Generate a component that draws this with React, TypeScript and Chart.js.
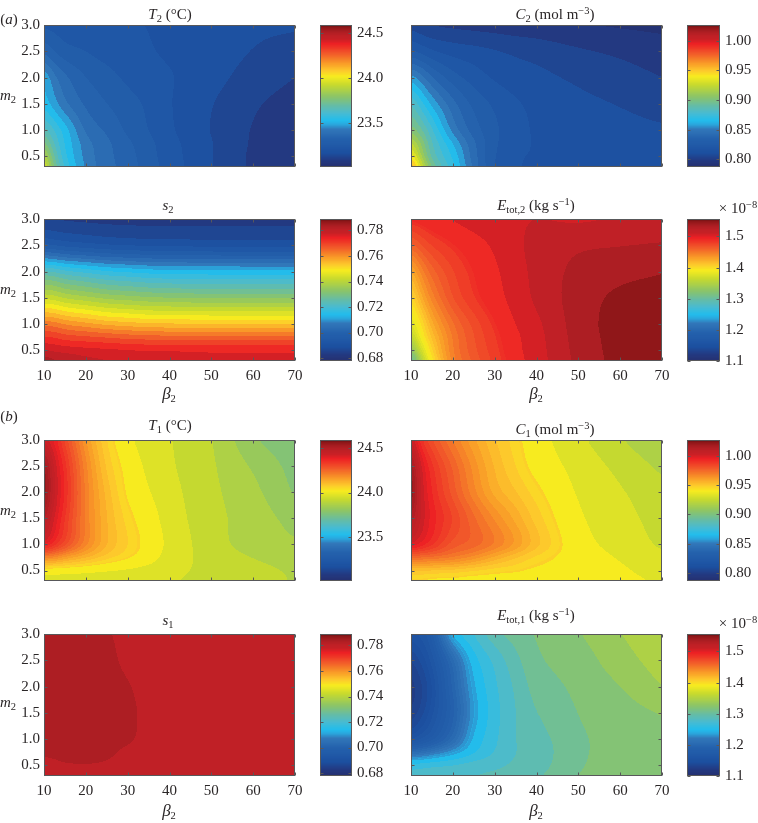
import React, { useEffect, useRef } from "react";
import { Chart, registerables } from "chart.js";

Chart.register(...registerables);

const beta2Grid = [10, 12.5, 15, 20, 25, 30, 35, 40, 50, 60, 70];
const m2Grid = [0.3, 0.5, 0.75, 1.0, 1.5, 2.0, 2.5, 3.0];
const betaTicks = [10, 20, 30, 40, 50, 60, 70];
const m2Ticks = [0.5, 1.0, 1.5, 2.0, 2.5, 3.0];

const tTicks = [23.5, 24.0, 24.5];
const cTicks = [0.8, 0.85, 0.9, 0.95, 1.0];
const sTicks = [0.68, 0.7, 0.72, 0.74, 0.76, 0.78];
const eTicks = [1.1, 1.2, 1.3, 1.4, 1.5];

const tRange = [23.015, 24.585];
const cRange = [0.787, 1.0265];
const sRange = [0.6777, 0.789];
const eRange = [1.1, 1.556];

const T2Grid = [
  [24.0, 23.75, 23.6, 23.45, 23.38, 23.335, 23.285, 23.24, 23.165, 23.105, 23.085],
  [23.9, 23.7, 23.57, 23.44, 23.375, 23.33, 23.28, 23.235, 23.165, 23.105, 23.085],
  [23.78, 23.65, 23.55, 23.43, 23.37, 23.32, 23.275, 23.23, 23.165, 23.108, 23.088],
  [23.68, 23.6, 23.53, 23.4, 23.35, 23.3, 23.26, 23.22, 23.16, 23.11, 23.09],
  [23.54, 23.48, 23.42, 23.35, 23.31, 23.28, 23.25, 23.215, 23.165, 23.12, 23.095],
  [23.5, 23.42, 23.37, 23.31, 23.28, 23.25, 23.23, 23.215, 23.18, 23.14, 23.113],
  [23.35, 23.31, 23.28, 23.26, 23.24, 23.225, 23.215, 23.205, 23.19, 23.16, 23.14],
  [23.25, 23.24, 23.23, 23.225, 23.22, 23.215, 23.21, 23.205, 23.195, 23.175, 23.17],
];

const C2Grid = [
  [0.965, 0.93, 0.9, 0.872, 0.845, 0.824, 0.818, 0.8155, 0.8145, 0.813, 0.812],
  [0.945, 0.915, 0.89, 0.868, 0.843, 0.825, 0.818, 0.8165, 0.8145, 0.813, 0.8115],
  [0.925, 0.905, 0.885, 0.862, 0.841, 0.826, 0.819, 0.8165, 0.814, 0.8125, 0.811],
  [0.905, 0.893, 0.878, 0.852, 0.836, 0.826, 0.82, 0.816, 0.8135, 0.812, 0.8105],
  [0.885, 0.872, 0.86, 0.842, 0.83, 0.823, 0.818, 0.815, 0.8115, 0.809, 0.806],
  [0.858, 0.85, 0.84, 0.828, 0.821, 0.816, 0.813, 0.8115, 0.808, 0.805, 0.802],
  [0.826, 0.822, 0.818, 0.814, 0.812, 0.81, 0.808, 0.8065, 0.803, 0.8005, 0.798],
  [0.806, 0.803, 0.801, 0.8, 0.799, 0.798, 0.797, 0.7965, 0.7945, 0.7935, 0.7925],
];

const S2Grid = [
  [0.785, 0.783, 0.782, 0.78, 0.779, 0.778, 0.7775, 0.7775, 0.777, 0.777, 0.777],
  [0.779, 0.778, 0.7775, 0.7765, 0.776, 0.7755, 0.775, 0.775, 0.7745, 0.7745, 0.7745],
  [0.772, 0.7715, 0.77, 0.769, 0.768, 0.767, 0.7665, 0.766, 0.766, 0.766, 0.766],
  [0.7635, 0.763, 0.761, 0.759, 0.757, 0.756, 0.755, 0.7548, 0.7545, 0.7545, 0.7545],
  [0.743, 0.742, 0.74, 0.738, 0.736, 0.735, 0.734, 0.7335, 0.733, 0.733, 0.733],
  [0.7235, 0.7225, 0.7205, 0.7185, 0.7165, 0.7155, 0.7145, 0.714, 0.7137, 0.7135, 0.7135],
  [0.696, 0.695, 0.694, 0.693, 0.692, 0.6915, 0.691, 0.691, 0.6905, 0.6905, 0.6905],
  [0.684, 0.684, 0.6838, 0.6835, 0.6832, 0.683, 0.683, 0.683, 0.683, 0.683, 0.683],
];

const E2Grid = [
  [1.29, 1.35, 1.395, 1.445, 1.465, 1.48, 1.493, 1.506, 1.531, 1.546, 1.549],
  [1.325, 1.37, 1.405, 1.448, 1.468, 1.482, 1.495, 1.507, 1.532, 1.5465, 1.5495],
  [1.355, 1.39, 1.415, 1.45, 1.47, 1.484, 1.496, 1.508, 1.533, 1.547, 1.55],
  [1.375, 1.4, 1.425, 1.455, 1.473, 1.487, 1.499, 1.51, 1.534, 1.5475, 1.55],
  [1.4, 1.425, 1.445, 1.47, 1.484, 1.494, 1.504, 1.516, 1.534, 1.545, 1.548],
  [1.425, 1.445, 1.46, 1.477, 1.488, 1.497, 1.506, 1.518, 1.531, 1.537, 1.541],
  [1.46, 1.47, 1.478, 1.487, 1.494, 1.501, 1.509, 1.519, 1.525, 1.527, 1.529],
  [1.49, 1.493, 1.496, 1.5, 1.505, 1.508, 1.511, 1.513, 1.511, 1.514, 1.516],
];

const T1Grid = [
  [23.97, 23.97, 23.965, 23.96, 23.955, 23.95, 23.947, 23.95, 23.93, 23.915, 23.895],
  [24.02, 24.02, 24.018, 24.01, 24.0, 23.99, 23.975, 23.96, 23.935, 23.915, 23.89],
  [24.2, 24.19, 24.16, 24.12, 24.08, 24.05, 24.02, 23.975, 23.93, 23.897, 23.87],
  [24.4, 24.35, 24.3, 24.2, 24.12, 24.07, 24.03, 23.985, 23.92, 23.878, 23.855],
  [24.5, 24.41, 24.34, 24.21, 24.12, 24.06, 24.02, 23.975, 23.915, 23.875, 23.83],
  [24.57, 24.44, 24.36, 24.21, 24.11, 24.04, 24.0, 23.965, 23.91, 23.862, 23.795],
  [24.55, 24.43, 24.35, 24.2, 24.09, 24.03, 23.985, 23.955, 23.905, 23.842, 23.78],
  [24.43, 24.38, 24.31, 24.17, 24.07, 24.01, 23.97, 23.95, 23.9, 23.808, 23.76],
];

const C1Grid = [
  [0.943, 0.943, 0.942, 0.942, 0.941, 0.941, 0.94, 0.94, 0.942, 0.939, 0.936],
  [0.952, 0.952, 0.951, 0.95, 0.948, 0.946, 0.945, 0.943, 0.942, 0.938, 0.933],
  [0.975, 0.974, 0.973, 0.97, 0.965, 0.958, 0.952, 0.947, 0.941, 0.936, 0.931],
  [1.0, 0.995, 0.99, 0.98, 0.976, 0.97, 0.962, 0.953, 0.94, 0.934, 0.928],
  [1.015, 1.003, 0.995, 0.985, 0.975, 0.966, 0.958, 0.95, 0.938, 0.932, 0.926],
  [1.025, 1.003, 0.993, 0.98, 0.968, 0.958, 0.952, 0.946, 0.936, 0.93, 0.924],
  [1.02, 1.0, 0.99, 0.977, 0.965, 0.955, 0.948, 0.942, 0.934, 0.927, 0.92],
  [1.005, 0.99, 0.982, 0.97, 0.96, 0.952, 0.946, 0.94, 0.931, 0.9225, 0.914],
];

const S1Grid = [
  [0.7805, 0.7806, 0.7807, 0.7808, 0.7807, 0.7805, 0.7803, 0.78, 0.7796, 0.7793, 0.7791],
  [0.7812, 0.7815, 0.7818, 0.7819, 0.7817, 0.7812, 0.7806, 0.7802, 0.7797, 0.7794, 0.7792],
  [0.7824, 0.7826, 0.7828, 0.783, 0.7825, 0.7815, 0.7808, 0.7803, 0.7798, 0.7795, 0.7792],
  [0.783, 0.7835, 0.7835, 0.7835, 0.7832, 0.7824, 0.7813, 0.7806, 0.7799, 0.7795, 0.7792],
  [0.784, 0.784, 0.784, 0.7837, 0.7832, 0.7825, 0.7815, 0.7808, 0.78, 0.7796, 0.7793],
  [0.7842, 0.7842, 0.784, 0.7836, 0.783, 0.7822, 0.7813, 0.7808, 0.78, 0.7796, 0.7793],
  [0.7838, 0.7838, 0.7836, 0.7832, 0.7826, 0.7816, 0.781, 0.7806, 0.78, 0.7795, 0.7792],
  [0.7835, 0.7835, 0.7832, 0.7828, 0.7822, 0.7815, 0.7808, 0.7805, 0.78, 0.7795, 0.779],
];

const E1Grid = [
  [1.28, 1.281, 1.282, 1.284, 1.286, 1.289, 1.293, 1.298, 1.314, 1.32, 1.325],
  [1.262, 1.265, 1.268, 1.272, 1.278, 1.282, 1.288, 1.293, 1.312, 1.319, 1.324],
  [1.205, 1.21, 1.218, 1.235, 1.255, 1.272, 1.285, 1.291, 1.311, 1.318, 1.324],
  [1.155, 1.165, 1.175, 1.205, 1.245, 1.268, 1.285, 1.293, 1.311, 1.319, 1.325],
  [1.13, 1.14, 1.155, 1.19, 1.235, 1.265, 1.285, 1.299, 1.314, 1.322, 1.329],
  [1.125, 1.135, 1.15, 1.195, 1.24, 1.268, 1.288, 1.305, 1.317, 1.328, 1.342],
  [1.135, 1.145, 1.16, 1.205, 1.25, 1.275, 1.295, 1.311, 1.321, 1.336, 1.349],
  [1.155, 1.16, 1.175, 1.245, 1.272, 1.295, 1.306, 1.315, 1.327, 1.342, 1.352],
];

const colormapStops: [number, string][] = [
  [0, "#252f6e"], [0.05, "#233a82"], [0.1, "#1c4f9f"], [0.15, "#2059a7"], [0.2, "#2461ac"], [0.27, "#3278ba"],
  [0.3, "#2aa5dc"], [0.33, "#22bdec"], [0.38, "#47bbd2"], [0.43, "#63bcaa"], [0.5, "#8dc566"], [0.58, "#c6d92f"],
  [0.64, "#f7ec1f"], [0.68, "#fdc92c"], [0.73, "#f99d28"], [0.8, "#f15b2a"], [0.87, "#ed2024"],
  [0.9, "#c92026"], [0.93, "#bd2026"], [0.96, "#a81d22"], [0.985, "#8f1719"], [1, "#6b1113"],
];

const BANDS = 32;

function hexRgb(h: string) {
  return [parseInt(h.slice(1, 3), 16), parseInt(h.slice(3, 5), 16), parseInt(h.slice(5, 7), 16)];
}
function cmap(f: number) {
  const t = Math.min(1, Math.max(0, f));
  for (let i = 0; i < colormapStops.length - 1; i++) {
    const [a, ca] = colormapStops[i];
    const [b, cb] = colormapStops[i + 1];
    if (t <= b) {
      const u = (t - a) / (b - a);
      const A = hexRgb(ca);
      const B = hexRgb(cb);
      return A.map((v, j) => Math.round(v + (B[j] - v) * u));
    }
  }
  return hexRgb("#6b1113");
}

function interp1(xs: number[], vs: number[], x: number) {
  const n = xs.length;
  let i = 0;
  while (i < n - 2 && x > xs[i + 1]) i++;
  const tan = (k: number) => {
    const a = Math.max(0, k - 1);
    const b = Math.min(n - 1, k + 1);
    return (vs[b] - vs[a]) / (xs[b] - xs[a]);
  };
  const h = xs[i + 1] - xs[i];
  const t = (x - xs[i]) / h;
  const t2 = t * t;
  const t3 = t2 * t;
  return (
    (2 * t3 - 3 * t2 + 1) * vs[i] +
    (t3 - 2 * t2 + t) * h * tan(i) +
    (-2 * t3 + 3 * t2) * vs[i + 1] +
    (t3 - t2) * h * tan(i + 1)
  );
}

function boxBlur(src: Float64Array, w: number, h: number, r: number) {
  const tmp = new Float64Array(w * h);
  const out = new Float64Array(w * h);
  for (let y = 0; y < h; y++)
    for (let x = 0; x < w; x++) {
      let s = 0;
      for (let d = -r; d <= r; d++) s += src[y * w + Math.max(0, Math.min(w - 1, x + d))];
      tmp[y * w + x] = s / (2 * r + 1);
    }
  for (let y = 0; y < h; y++)
    for (let x = 0; x < w; x++) {
      let s = 0;
      for (let d = -r; d <= r; d++) s += tmp[Math.max(0, Math.min(h - 1, y + d)) * w + x];
      out[y * w + x] = s / (2 * r + 1);
    }
  return out;
}

const contourPlugin = {
  id: "contourFill",
  beforeDatasetsDraw(chart: any) {
    const o = chart.options.plugins.contourFill;
    if (!o || !o.grid) return;
    const { left, top, right, bottom } = chart.chartArea;
    const x0 = Math.round(left);
    const y0 = Math.round(top);
    const w = Math.round(right) - x0;
    const h = Math.round(bottom) - y0;
    const img = chart.ctx.createImageData(w, h);
    const sx = chart.scales.x;
    const sy = chart.scales.y;
    const [lo, hi] = o.range;
    const [fineLo, fineHi] = o.fine;
    let field = new Float64Array(w * h);
    for (let px = 0; px < w; px++) {
      const xv = sx.getValueForPixel(x0 + px + 0.5);
      const col = o.grid.map((row: number[]) => interp1(beta2Grid, row, xv));
      for (let py = 0; py < h; py++) {
        const yv = sy.getValueForPixel(y0 + py + 0.5);
        field[py * w + px] = interp1(m2Grid, col, yv);
      }
    }
    field = boxBlur(boxBlur(field, w, h, 3), w, h, 3);
    for (let q0 = 0; q0 < w * h; q0++) {
      const f = (field[q0] - lo) / (hi - lo);
      const n = f >= fineLo && f <= fineHi ? BANDS * 2 : BANDS;
      const k = Math.max(0, Math.min(n - 1, Math.floor(f * n)));
      const c = cmap((k + 0.5) / n);
      const q = q0 * 4;
      img.data[q] = c[0];
      img.data[q + 1] = c[1];
      img.data[q + 2] = c[2];
      img.data[q + 3] = 255;
    }
    chart.ctx.putImageData(img, x0, y0);
  },
};

const framePlugin = {
  id: "frameTicks",
  afterDraw(chart: any) {
    const ctx = chart.ctx;
    const { left, top, right, bottom } = chart.chartArea;
    const l = Math.round(left) + 0.5;
    const t = Math.round(top) + 0.5;
    const r = Math.round(right) - 0.5;
    const b = Math.round(bottom) - 0.5;
    ctx.save();
    ctx.strokeStyle = "#58585a";
    ctx.lineWidth = 1;
    ctx.strokeRect(l, t, r - l, b - t);
    ctx.beginPath();
    const sy = chart.scales.y;
    sy.ticks.forEach((tk: any) => {
      const p = Math.round(sy.getPixelForValue(tk.value)) + 0.5;
      ctx.moveTo(l, p);
      ctx.lineTo(l + 3, p);
      ctx.moveTo(r, p);
      ctx.lineTo(r - 3, p);
    });
    const sx = chart.scales.x;
    if (sx && sx.type === "linear") {
      sx.ticks.forEach((tk: any) => {
        const p = Math.round(sx.getPixelForValue(tk.value)) + 0.5;
        ctx.moveTo(p, b);
        ctx.lineTo(p, b - 3);
        ctx.moveTo(p, t);
        ctx.lineTo(p, t + 3);
      });
    }
    ctx.stroke();
    ctx.restore();
  },
};

const FONT = "'Liberation Serif', 'Times New Roman', serif";
const INK = "#2a2627";
const SOFT = "blur(0.35px)";

const zeroPad = (s: any) => {
  s.paddingTop = 0;
  s.paddingBottom = 0;
  s.paddingLeft = 0;
  s.paddingRight = 0;
};

type PanelProps = {
  grid: number[][];
  range: number[];
  fine: number[];
  rect: number[];
  showX: boolean;
  showY: boolean;
};

function Panel({ grid, range, fine, rect, showX, showY }: PanelProps) {
  const ref = useRef<HTMLCanvasElement>(null);
  const [x0, y0, x1, y1] = rect;
  const W = x1 - x0 + 44 + 14;
  const H = y1 - y0 + 12 + 30;
  useEffect(() => {
    const points: any[] = [];
    grid.forEach((row, j) => row.forEach((v, i) => points.push({ x: beta2Grid[i], y: m2Grid[j], v })));
    const chart = new Chart(ref.current as HTMLCanvasElement, {
      type: "scatter",
      data: { datasets: [{ data: points, pointRadius: 0, pointHoverRadius: 0 }] },
      options: {
        animation: false,
        responsive: false,
        devicePixelRatio: 1,
        layout: { padding: { left: 0, top: 12, right: 14, bottom: 0 } },
        plugins: { legend: { display: false }, tooltip: { enabled: false }, contourFill: { grid, range, fine } },
        scales: {
          x: {
            type: "linear",
            min: 10,
            max: 70,
            grid: { display: false, drawTicks: false },
            border: { display: false },
            afterBuildTicks: (s: any) => { s.ticks = betaTicks.map((value) => ({ value })); },
            afterFit: (s: any) => { s.height = 30; zeroPad(s); },
            ticks: { display: showX, autoSkip: false, maxRotation: 0, padding: 6, color: INK, font: { family: FONT, size: 15 }, callback: (v: any) => String(v) },
          },
          y: {
            type: "linear",
            min: 0.3,
            max: 3,
            grid: { display: false, drawTicks: false },
            border: { display: false },
            afterBuildTicks: (s: any) => { s.ticks = m2Ticks.map((value) => ({ value })); },
            afterFit: (s: any) => { s.width = 44; zeroPad(s); },
            ticks: { display: showY, autoSkip: false, padding: 4, color: INK, font: { family: FONT, size: 15 }, callback: (v: any) => Number(v).toFixed(1) },
          },
        },
      } as any,
      plugins: [contourPlugin, framePlugin],
    });
    return () => chart.destroy();
  }, []);
  return <canvas ref={ref} width={W} height={H} style={{ position: "absolute", left: x0 - 44, top: y0 - 12, width: W, height: H, filter: SOFT }} />;
}

type BarProps = { range: number[]; ticks: number[]; digits: number; rect: number[] };

function ColorBar({ range, ticks, digits, rect }: BarProps) {
  const ref = useRef<HTMLCanvasElement>(null);
  const [x0, y0, x1, y1] = rect;
  const W = x1 - x0 + 38;
  const H = y1 - y0 + 24;
  useEffect(() => {
    const N = 128;
    const [lo, hi] = range;
    const datasets: any[] = [];
    for (let i = N - 1; i >= 0; i--) {
      const c = cmap((i + 0.5) / N);
      datasets.push({
        data: [[lo + ((hi - lo) * i) / N, hi]],
        backgroundColor: `rgb(${c[0]},${c[1]},${c[2]})`,
        borderWidth: 0,
        grouped: false,
        barPercentage: 1,
        categoryPercentage: 1,
      });
    }
    const chart = new Chart(ref.current as HTMLCanvasElement, {
      type: "bar",
      data: { labels: [""], datasets },
      options: {
        animation: false,
        responsive: false,
        devicePixelRatio: 1,
        layout: { padding: { left: 0, top: 12, right: 0, bottom: 12 } },
        plugins: { legend: { display: false }, tooltip: { enabled: false } },
        scales: {
          x: { display: false },
          y: {
            type: "linear",
            position: "right",
            min: lo,
            max: hi,
            grid: { display: false, drawTicks: false },
            border: { display: false },
            afterBuildTicks: (s: any) => { s.ticks = ticks.map((value) => ({ value })); },
            afterFit: (s: any) => { s.width = 38; zeroPad(s); },
            ticks: { autoSkip: false, padding: 5, color: INK, font: { family: FONT, size: 15 }, callback: (v: any) => Number(v).toFixed(digits) },
          },
        },
      } as any,
      plugins: [framePlugin],
    });
    return () => chart.destroy();
  }, []);
  return <canvas ref={ref} width={W} height={H} style={{ position: "absolute", left: x0, top: y0 - 12, width: W, height: H, filter: SOFT }} />;
}

const Sub = ({ children }: any) => <span style={{ fontSize: 10.5, verticalAlign: -3, lineHeight: 0 }}>{children}</span>;
const Sup = ({ children }: any) => <span style={{ fontSize: 10.5, verticalAlign: 5, lineHeight: 0 }}>{children}</span>;
const I = ({ children }: any) => <i>{children}</i>;

function Label({ x, y, children, size = 15 }: any) {
  return (
    <div style={{ position: "absolute", left: x, top: y, transform: "translate(-50%,-50%)", whiteSpace: "nowrap", fontFamily: FONT, fontSize: size, color: INK, lineHeight: 1 }}>
      {children}
    </div>
  );
}

const colL: [number, number] = [44, 295];
const colR: [number, number] = [411, 662];
const barL: [number, number] = [320, 352];
const barR: [number, number] = [687, 720];
const rows: [number, number][] = [[25, 167], [219, 361], [440, 581], [634, 776]];
const noFine = [2, 3];

const cells = [
  { grid: T2Grid, range: tRange, fine: noFine, ticks: tTicks, digits: 1, col: colL, bar: barL, row: 0 },
  { grid: C2Grid, range: cRange, fine: noFine, ticks: cTicks, digits: 2, col: colR, bar: barR, row: 0 },
  { grid: S2Grid, range: sRange, fine: noFine, ticks: sTicks, digits: 2, col: colL, bar: barL, row: 1 },
  { grid: E2Grid, range: eRange, fine: [0.5, 0.85], ticks: eTicks, digits: 1, col: colR, bar: barR, row: 1 },
  { grid: T1Grid, range: tRange, fine: [0.66, 1], ticks: tTicks, digits: 1, col: colL, bar: barL, row: 2 },
  { grid: C1Grid, range: cRange, fine: [0.66, 1], ticks: cTicks, digits: 2, col: colR, bar: barR, row: 2 },
  { grid: S1Grid, range: sRange, fine: noFine, ticks: sTicks, digits: 2, col: colL, bar: barL, row: 3 },
  { grid: E1Grid, range: eRange, fine: [0, 0.3], ticks: eTicks, digits: 1, col: colR, bar: barR, row: 3 },
];

const Unit = () => <>(kg s<Sup>−1</Sup>)</>;
const UnitC = () => <>(mol m<Sup>−3</Sup>)</>;

export default function App() {
  return (
    <div style={{ position: "absolute", left: 0, top: 0, width: 758, height: 823, background: "#fff", overflow: "hidden" }}>
      {cells.map((c, i) => (
        <React.Fragment key={i}>
          <Panel grid={c.grid} range={c.range} fine={c.fine} rect={[c.col[0], rows[c.row][0], c.col[1], rows[c.row][1]]} showX={c.row % 2 === 1} showY={c.col === colL} />
          <ColorBar range={c.range} ticks={c.ticks} digits={c.digits} rect={[c.bar[0], rows[c.row][0], c.bar[1], rows[c.row][1]]} />
        </React.Fragment>
      ))}

      <Label x={9} y={19}>(<I>a</I>)</Label>
      <Label x={9} y={416}>(<I>b</I>)</Label>

      <Label x={170} y={14}><I>T</I><Sub>2</Sub> (°C)</Label>
      <Label x={555} y={14}><I>C</I><Sub>2</Sub> <UnitC /></Label>
      <Label x={168} y={205}><I>s</I><Sub>2</Sub></Label>
      <Label x={536} y={205}><I>E</I><Sub>tot,2</Sub> <Unit /></Label>
      <Label x={170} y={425}><I>T</I><Sub>1</Sub> (°C)</Label>
      <Label x={555} y={429}><I>C</I><Sub>1</Sub> <UnitC /></Label>
      <Label x={168} y={620}><I>s</I><Sub>1</Sub></Label>
      <Label x={536} y={615}><I>E</I><Sub>tot,1</Sub> <Unit /></Label>

      <Label x={8} y={95}><I>m</I><Sub>2</Sub></Label>
      <Label x={8} y={289}><I>m</I><Sub>2</Sub></Label>
      <Label x={8} y={510}><I>m</I><Sub>2</Sub></Label>
      <Label x={8} y={702}><I>m</I><Sub>2</Sub></Label>

      <Label x={169} y={393} size={17}><I>β</I><Sub>2</Sub></Label>
      <Label x={536} y={393} size={17}><I>β</I><Sub>2</Sub></Label>
      <Label x={169} y={810} size={17}><I>β</I><Sub>2</Sub></Label>
      <Label x={536} y={810} size={17}><I>β</I><Sub>2</Sub></Label>

      <Label x={738} y={208}>× 10<Sup>−8</Sup></Label>
      <Label x={738} y={623}>× 10<Sup>−8</Sup></Label>
    </div>
  );
}
